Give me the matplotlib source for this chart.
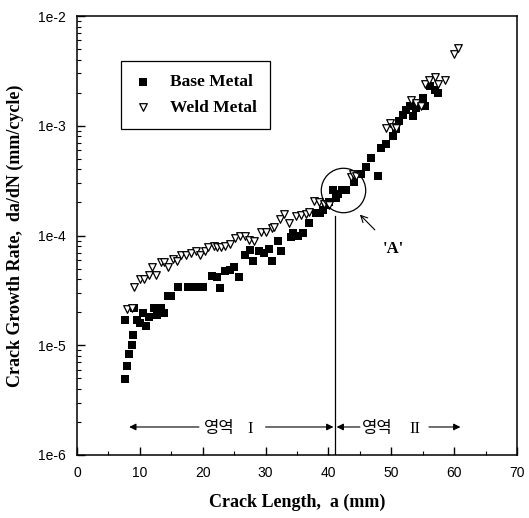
import matplotlib
matplotlib.use("Agg")
import matplotlib.pyplot as plt
from matplotlib.ticker import LogLocator, FixedLocator, NullFormatter

# ---------------- data ----------------
base_a = [7.7, 7.7, 7.9, 8.3, 8.8, 8.9, 9.0, 9.5, 10.0, 10.5, 11.0, 11.5, 12.3, 12.8,
          13.3, 13.8, 14.5, 15.0, 16.0, 17.7, 18.5, 19.3, 20.1, 21.5, 22.3, 22.8, 23.5,
          24.3, 25.0, 25.8, 26.8, 27.6, 28.0, 29.0, 29.8, 30.5, 31.1, 31.9, 32.4, 34.0,
          34.3, 35.1, 35.9, 36.9, 38.0, 38.6, 39.1, 39.6, 40.1, 40.7, 41.2, 41.5, 42.1,
          42.8, 44.1, 45.2, 46.0, 46.8, 47.9, 48.4, 49.2, 50.3, 50.8, 51.3, 51.9, 52.4,
          52.9, 53.5, 54.0, 55.0, 55.4, 56.1, 56.9, 57.5]
base_r = [1.7e-5, 4.9e-6, 6.5e-6, 8.3e-6, 1.0e-5, 1.25e-5, 2.2e-5, 1.7e-5, 1.6e-5, 1.95e-5,
          1.5e-5, 1.8e-5, 2.2e-5, 1.9e-5, 2.2e-5, 1.95e-5, 2.8e-5, 2.8e-5, 3.4e-5, 3.4e-5,
          3.4e-5, 3.4e-5, 3.4e-5, 4.3e-5, 4.2e-5, 3.3e-5, 4.7e-5, 4.9e-5, 5.2e-5, 4.2e-5,
          6.6e-5, 7.4e-5, 5.9e-5, 7.3e-5, 7.0e-5, 7.5e-5, 5.8e-5, 9.0e-5, 7.2e-5, 9.6e-5,
          1.05e-4, 1.0e-4, 1.05e-4, 1.29e-4, 1.6e-4, 1.6e-4, 1.7e-4, 1.9e-4, 2.0e-4, 2.6e-4,
          2.2e-4, 2.4e-4, 2.6e-4, 2.6e-4, 3.05e-4, 3.6e-4, 4.2e-4, 5.1e-4, 3.5e-4, 6.3e-4,
          6.8e-4, 8.1e-4, 9.3e-4, 1.1e-3, 1.25e-3, 1.4e-3, 1.5e-3, 1.23e-3, 1.45e-3, 1.8e-3,
          1.5e-3, 2.3e-3, 2.1e-3, 2.0e-3]

weld_a = [7.9, 8.7, 9.1, 10.1, 10.7, 11.4, 12.0, 12.6, 13.3, 13.8, 14.4, 15.2, 15.9, 16.6,
          17.3, 18.1, 18.9, 19.6, 20.3, 20.9, 21.8, 22.3, 22.9, 23.6, 24.4, 25.2, 26.0,
          26.7, 27.4, 28.2, 29.2, 30.0, 31.1, 31.4, 32.3, 33.0, 33.8, 34.8, 35.6, 36.4,
          36.9, 37.7, 38.5, 39.3, 40.1, 43.6, 43.9, 44.4, 49.2, 49.8, 50.3, 50.8, 53.2,
          54.0, 54.8, 55.3, 56.0, 57.0, 57.5, 58.5, 59.9, 60.6]
weld_r = [2.15e-5, 2.2e-5, 3.4e-5, 4.0e-5, 4.0e-5, 4.4e-5, 5.2e-5, 4.4e-5, 5.7e-5, 5.7e-5,
          5.2e-5, 6.1e-5, 5.9e-5, 6.6e-5, 6.7e-5, 7.0e-5, 7.2e-5, 6.7e-5, 7.3e-5, 7.8e-5,
          8.1e-5, 7.9e-5, 7.8e-5, 8.1e-5, 8.4e-5, 9.5e-5, 1.0e-4, 1.0e-4, 9.1e-5, 9.0e-5,
          1.07e-4, 1.07e-4, 1.17e-4, 1.2e-4, 1.42e-4, 1.57e-4, 1.29e-4, 1.52e-4, 1.55e-4,
          1.57e-4, 1.63e-4, 2.08e-4, 2.04e-4, 1.94e-4, 1.88e-4, 3.4e-4, 3.6e-4, 3.5e-4,
          9.6e-4, 1.05e-3, 9.8e-4, 9.5e-4, 1.7e-3, 1.6e-3, 1.5e-3, 2.4e-3, 2.6e-3, 2.8e-3,
          2.4e-3, 2.6e-3, 4.5e-3, 5.1e-3]

x_ticks = [0, 10, 20, 30, 40, 50, 60, 70]
y_ticks = [1e-6, 1e-5, 1e-4, 1e-3, 1e-2]
y_ticklabels = ["1e-6", "1e-5", "1e-4", "1e-3", "1e-2"]

boundary_a = 41.0
circle_center = (42.3, 2.6e-4)
region_y = 1.8e-6

# ---------------- figure ----------------
serif = ["Liberation Serif", "DejaVu Serif"]
sans = ["Liberation Sans", "DejaVu Sans"]
kr = ["Noto Sans CJK KR", "DejaVu Sans"]

fig = plt.figure(figsize=(5.29, 5.18), dpi=100)
ax = fig.add_axes([77 / 529, 1 - 455 / 518, (517 - 77) / 529, (455 - 16) / 518])

ax.scatter(base_a, base_r, marker="s", s=26, c="black", linewidths=0, label="Base Metal", zorder=3)
ax.scatter(weld_a, weld_r, marker="v", s=30, facecolors="white", edgecolors="black",
           linewidths=0.9, label="Weld Metal", zorder=4)

ax.set_yscale("log")
ax.set_xlim(0, 70)
ax.set_ylim(1e-6, 1e-2)

ax.xaxis.set_major_locator(FixedLocator(x_ticks))
ax.xaxis.set_minor_locator(FixedLocator([5, 15, 25, 35, 45, 55, 65]))
ax.set_xticklabels([str(t) for t in x_ticks], fontfamily=sans, fontsize=10)
ax.yaxis.set_major_locator(FixedLocator(y_ticks))
ax.set_yticklabels(y_ticklabels, fontfamily=sans, fontsize=10)
ax.yaxis.set_minor_locator(LogLocator(base=10, subs=range(2, 10)))
ax.yaxis.set_minor_formatter(NullFormatter())
ax.tick_params(which="major", direction="in", length=6, width=1, pad=8)
ax.tick_params(which="minor", direction="in", length=3, width=0.8)
for sp in ax.spines.values():
    sp.set_linewidth(1.1)

ax.set_xlabel("Crack Length,  a (mm)", fontfamily=serif, fontweight="bold", fontsize=13, labelpad=10)
ax.set_ylabel("Crack Growth Rate,  da/dN (mm/cycle)", fontfamily=serif, fontweight="bold",
              fontsize=13, labelpad=10)

# boundary line
ax.plot([boundary_a, boundary_a], [1e-6, 1.5e-4], color="black", lw=0.9, zorder=2)

# circle around region A
ax.plot([circle_center[0]], [circle_center[1]], marker="o", markersize=32,
        markerfacecolor="none", markeredgecolor="black", markeredgewidth=0.9, zorder=5)

# label 'A' with arrow
ax.annotate("'A'", xy=(45.0, 1.55e-4), xytext=(50.3, 7.6e-5), ha="center", va="center",
            fontfamily=serif, fontweight="bold", fontsize=12,
            arrowprops=dict(arrowstyle="->", color="black", lw=0.8, shrinkB=0, shrinkA=8))

# region arrows
arrow_kw = dict(arrowstyle="-|>", color="black", lw=0.8, mutation_scale=10, shrinkA=0, shrinkB=0)
ax.annotate("", xy=(8.3, region_y), xytext=(19.4, region_y), arrowprops=arrow_kw)
ax.annotate("", xy=(40.8, region_y), xytext=(30.0, region_y), arrowprops=arrow_kw)
ax.text(22.7, region_y, "영역", fontfamily=kr, fontsize=12, ha="center", va="center_baseline")
ax.text(27.6, region_y, "I", fontfamily=serif, fontsize=12, ha="center", va="center_baseline")
ax.annotate("", xy=(41.3, region_y), xytext=(45.0, region_y), arrowprops=arrow_kw)
ax.annotate("", xy=(61.0, region_y), xytext=(56.0, region_y), arrowprops=arrow_kw)
ax.text(47.8, region_y, "영역", fontfamily=kr, fontsize=12, ha="center", va="center_baseline")
ax.text(53.8, region_y, "II", fontfamily=serif, fontsize=12, ha="center", va="center_baseline")

leg = ax.legend(loc="upper left", bbox_to_anchor=(44 / 440, 1 - 45 / 439), frameon=True,
                fancybox=False, edgecolor="black", framealpha=1,
                prop=dict(family=serif, weight="bold", size=12.5), borderpad=0.75,
                labelspacing=0.55, handlelength=1.0, handletextpad=1.1, borderaxespad=0)
leg.get_frame().set_linewidth(0.9)

fig.savefig("out.png", dpi=100)
